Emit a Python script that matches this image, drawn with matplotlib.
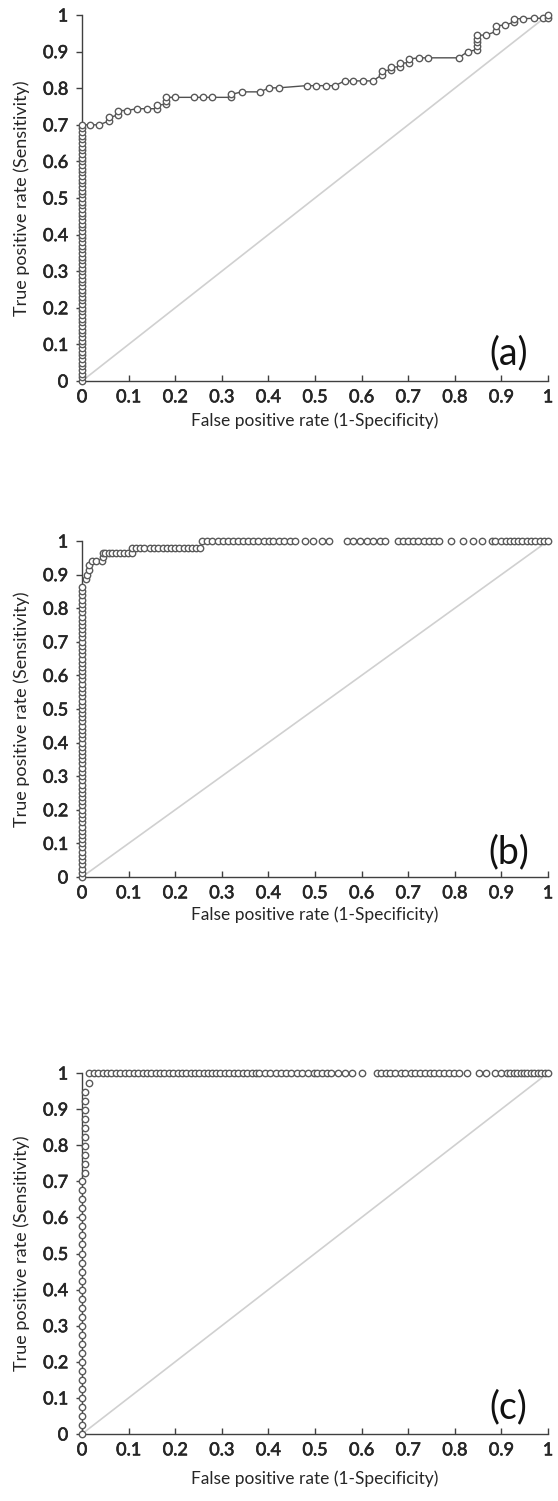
import matplotlib
matplotlib.use("Agg")
import matplotlib.pyplot as plt
import matplotlib.patheffects as pe

# ---------------- data ----------------
tick_vals = [0, 0.1, 0.2, 0.3, 0.4, 0.5, 0.6, 0.7, 0.8, 0.9, 1]
tick_labels = ["0", "0.1", "0.2", "0.3", "0.4", "0.5", "0.6", "0.7", "0.8", "0.9", "1"]
x_label = "False positive rate (1-Specificity)"
y_label = "True positive rate (Sensitivity)"
panel_names = ["(a)", "(b)", "(c)"]

# panel (a)
a_fpr = [0.0] * 71 + [
    0.017, 0.037, 0.059, 0.059, 0.078, 0.078, 0.097, 0.117, 0.140, 0.160,
    0.160, 0.180, 0.180, 0.180, 0.200, 0.240, 0.260, 0.280, 0.320, 0.320,
    0.343, 0.382, 0.402, 0.422, 0.482, 0.502, 0.524, 0.543, 0.564, 0.582,
    0.604, 0.624, 0.643, 0.643, 0.663, 0.663, 0.682, 0.682, 0.702, 0.702,
    0.724, 0.743, 0.808, 0.828, 0.847, 0.847, 0.847, 0.847, 0.847, 0.867,
    0.888, 0.888, 0.908, 0.927, 0.927, 0.947, 0.969, 0.989, 1.000, 1.000]
a_tpr = [
    0.00, 0.01, 0.02, 0.03, 0.04, 0.05, 0.06, 0.07, 0.08, 0.09,
    0.10, 0.11, 0.12, 0.13, 0.14, 0.15, 0.16, 0.17, 0.18, 0.19,
    0.20, 0.21, 0.22, 0.23, 0.24, 0.25, 0.26, 0.27, 0.28, 0.29,
    0.30, 0.31, 0.32, 0.33, 0.34, 0.35, 0.36, 0.37, 0.38, 0.39,
    0.40, 0.41, 0.42, 0.43, 0.44, 0.45, 0.46, 0.47, 0.48, 0.49,
    0.50, 0.51, 0.52, 0.53, 0.54, 0.55, 0.56, 0.57, 0.58, 0.59,
    0.60, 0.61, 0.62, 0.63, 0.64, 0.65, 0.66, 0.67, 0.68, 0.69,
    0.70,
    0.700, 0.700, 0.711, 0.720, 0.727, 0.739, 0.739, 0.744, 0.744, 0.744,
    0.754, 0.756, 0.766, 0.775, 0.775, 0.775, 0.775, 0.775, 0.775, 0.783,
    0.790, 0.790, 0.801, 0.801, 0.807, 0.807, 0.807, 0.807, 0.820, 0.820,
    0.820, 0.820, 0.836, 0.847, 0.850, 0.858, 0.858, 0.868, 0.870, 0.880,
    0.883, 0.883, 0.883, 0.900, 0.905, 0.915, 0.925, 0.935, 0.945, 0.945,
    0.955, 0.970, 0.973, 0.980, 0.990, 0.990, 0.991, 0.991, 0.991, 1.000]

# panel (b)
b_fpr = [0.0] * 70 + [
    0.008, 0.010, 0.016, 0.016, 0.021, 0.030, 0.042, 0.046, 0.046,
    0.049, 0.057, 0.065, 0.074, 0.082, 0.090, 0.099, 0.107,
    0.107, 0.115, 0.124, 0.133, 0.146, 0.155, 0.164, 0.173, 0.182, 0.191,
    0.200, 0.209, 0.218, 0.227, 0.236, 0.245, 0.253,
    0.257, 0.268, 0.280, 0.291, 0.303, 0.314, 0.323, 0.334, 0.345, 0.356,
    0.367, 0.378, 0.390, 0.401, 0.410, 0.422, 0.434, 0.446, 0.458, 0.479,
    0.496, 0.514, 0.529, 0.568, 0.582, 0.597, 0.611, 0.625, 0.639, 0.650,
    0.679, 0.689, 0.699, 0.710, 0.720, 0.734, 0.745, 0.756, 0.767, 0.791,
    0.818, 0.838, 0.858, 0.879, 0.886, 0.900, 0.909, 0.918, 0.927, 0.936,
    0.945, 0.955, 0.964, 0.973, 0.982, 0.991, 1.000]
b_tpr = [
    0.000, 0.013, 0.025, 0.038, 0.050, 0.063, 0.075, 0.088, 0.100, 0.113,
    0.125, 0.138, 0.150, 0.163, 0.175, 0.188, 0.200, 0.213, 0.225, 0.238,
    0.250, 0.263, 0.275, 0.288, 0.300, 0.313, 0.325, 0.338, 0.350, 0.363,
    0.375, 0.388, 0.400, 0.413, 0.425, 0.438, 0.450, 0.463, 0.475, 0.488,
    0.500, 0.513, 0.525, 0.538, 0.550, 0.563, 0.575, 0.588, 0.600, 0.613,
    0.625, 0.638, 0.650, 0.663, 0.675, 0.688, 0.700, 0.713, 0.725, 0.738,
    0.750, 0.763, 0.775, 0.788, 0.800, 0.813, 0.825, 0.838, 0.850, 0.864,
    0.886, 0.899, 0.914, 0.929, 0.940, 0.940, 0.940, 0.953, 0.963,
    0.963, 0.963, 0.963, 0.963, 0.963, 0.963, 0.963, 0.963,
    0.978, 0.978, 0.978, 0.978, 0.978, 0.978, 0.978, 0.978, 0.978, 0.978,
    0.978, 0.978, 0.978, 0.978, 0.978, 0.978, 0.978] + [1.0] * 57

# panel (c)
c_fpr = [0.0] * 29 + [0.007] * 10 + [0.016] + [
    0.015, 0.025, 0.035, 0.044, 0.054, 0.063, 0.073, 0.082, 0.092, 0.101,
    0.111, 0.120, 0.130, 0.139, 0.149, 0.158, 0.167,
    0.176, 0.186, 0.195, 0.205, 0.214, 0.224, 0.233, 0.243, 0.252, 0.262, 0.271,
    0.278, 0.288, 0.297, 0.307, 0.316, 0.326, 0.335, 0.345, 0.354, 0.364, 0.373,
    0.380, 0.392, 0.404, 0.416, 0.428,
    0.437, 0.449, 0.461, 0.473, 0.485, 0.497,
    0.505, 0.515, 0.525, 0.535, 0.550, 0.565, 0.580, 0.600,
    0.632, 0.642, 0.652, 0.662, 0.672, 0.684, 0.694, 0.705, 0.715,
    0.725, 0.735, 0.746, 0.756, 0.767, 0.777, 0.787, 0.798, 0.808,
    0.826, 0.851, 0.868, 0.886, 0.900, 0.911,
    0.918, 0.926, 0.933, 0.941, 0.948, 0.956, 0.963, 0.970, 0.978, 0.985,
    0.993, 1.000]
c_tpr = [
    0.000, 0.025, 0.050, 0.075, 0.100, 0.125, 0.150, 0.175, 0.200, 0.225,
    0.250, 0.275, 0.300, 0.325, 0.350, 0.375, 0.400, 0.425, 0.450, 0.475,
    0.500, 0.525, 0.550, 0.575, 0.600, 0.625, 0.650, 0.675, 0.700,
    0.722, 0.747, 0.772, 0.797, 0.822, 0.847, 0.872, 0.897, 0.922, 0.947,
    0.972] + [1.0] * 94

panels = [
    (a_fpr, a_tpr, True),
    (b_fpr, b_tpr, False),
    (c_fpr, c_tpr, False),
]

# ---------------- layout ----------------
W, H = 558, 1501
plt.rcParams['font.family'] = ['Lato', 'DejaVu Sans']
fig = plt.figure(figsize=(W / 100, H / 100), dpi=100)

# (left px, right px, top px, bottom px)
boxes = [(82, 548, 15, 381), (82, 548, 541, 877), (82, 548, 1073, 1434)]
xlab_off = [40, 38, 45]

axis_col = '#404040'
text_col = '#262626'
bold_fx = [pe.withStroke(linewidth=0.45, foreground=text_col)]

for (fpr, tpr, with_line), (l, r, t, b), name, xo in zip(panels, boxes, panel_names, xlab_off):
    ax = fig.add_axes([l / W, 1 - b / H, (r - l) / W, (b - t) / H])
    ax.set_xlim(0, 1)
    ax.set_ylim(0, 1)
    ax.plot([0, 1], [0, 1], color='#d0d0d0', lw=1.2, zorder=1, clip_on=False)
    ax.plot(fpr, tpr, linestyle='-' if with_line else 'none', color='#505050', lw=1.0,
            marker='o', ms=4.6, mfc='white', mec='#5a5a5a', mew=1.0,
            zorder=3, clip_on=False)
    for s in ['top', 'right']:
        ax.spines[s].set_visible(False)
    for s in ['left', 'bottom']:
        ax.spines[s].set_color(axis_col)
        ax.spines[s].set_linewidth(1.0)
    ax.set_xticks(tick_vals)
    ax.set_xticklabels(tick_labels)
    ax.set_yticks(tick_vals)
    ax.set_yticklabels(tick_labels)
    ax.tick_params(axis='x', direction='in', length=4, width=1.0, color=axis_col,
                   labelsize=13, labelcolor=text_col, pad=6)
    ax.tick_params(axis='y', direction='out', length=4, width=1.0, color=axis_col,
                   labelsize=13, labelcolor=text_col, pad=6)
    for lab in ax.get_xticklabels() + ax.get_yticklabels():
        lab.set_path_effects(bold_fx)
    ax.set_xlabel(x_label, fontsize=12.5, color=text_col)
    ax.xaxis.set_label_coords(0.5, -xo / (b - t))
    ax.xaxis.label.set_va('center')
    ax.set_ylabel(y_label, fontsize=13, color=text_col)
    ax.yaxis.set_label_coords(-(82 - 22) / (r - l), 0.5)
    ax.yaxis.label.set_va('center')
    ax.text(0.915, 0.075, name, fontsize=27, color='#111111',
            ha='center', va='center', transform=ax.transAxes)

fig.savefig('out.png', dpi=100)
